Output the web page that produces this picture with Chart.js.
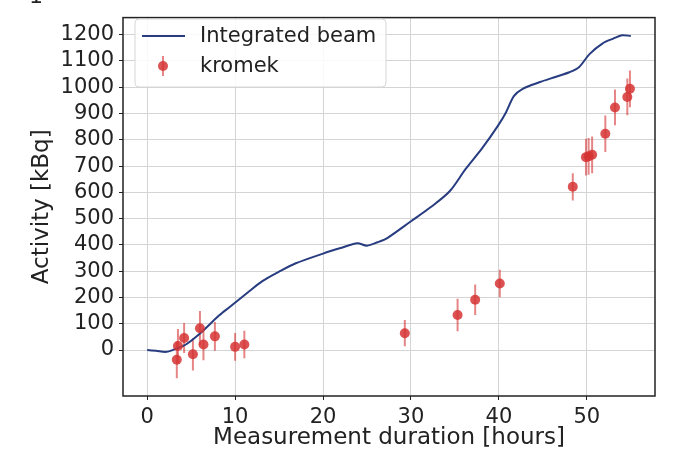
<!DOCTYPE html>
<html>
<head>
<meta charset="utf-8">
<script src="https://cdn.jsdelivr.net/npm/chart.js@4.4.1/dist/chart.umd.min.js"></script>
<style>
  html, body { margin: 0; padding: 0; background: #fff; }
  #wrap { width: 674px; height: 450px; position: relative; }
</style>
</head>
<body>
<div id="wrap"><canvas id="activityChart"></canvas></div>
<script>
// Integrated beam curve (hours, kBq)
const beamHours = [0, 1, 2.2, 3.3, 4.4, 5.9, 8.2, 9.35, 11.4, 13.1, 15, 16.9, 20, 22, 23.9, 25, 26.2, 27.3, 30, 32.3, 34.4, 36.2, 38.1, 39.9, 40.8, 41.7, 42.7, 44.6, 46.5, 48, 49.1, 50.3, 51.8, 53, 54, 55];
const beamActivity = [0, -3, -7, 5, 21, 60, 132, 163, 218, 262, 298, 330, 367, 388, 406, 397, 410, 426, 490, 545, 604, 688, 768, 854, 904, 966, 994, 1019, 1040, 1057, 1076, 1126, 1167, 1185, 1198, 1195];

// kromek measurements
const kromekHours = [3.37, 3.5, 4.2, 5.2, 6.0, 6.4, 7.7, 10.0, 11.05, 29.3, 35.3, 37.3, 40.1, 48.4, 49.9, 50.2, 50.6, 52.1, 53.2, 54.6, 54.9];
const kromekActivity = [-37, 15, 46, -16, 83, 21, 52, 12, 21, 64, 133, 191, 253, 621, 734, 737, 743, 823, 923, 963, 994];
const kromekError = [70, 65, 57, 62, 65, 60, 55, 53, 52, 50, 62, 58, 52, 52, 70, 70, 70, 69, 68, 70, 70];

// axis ticks
const xTicks = [0, 10, 20, 30, 40, 50];
const yTicks = [0, 100, 200, 300, 400, 500, 600, 700, 800, 900, 1000, 1100, 1200];

const lineColor = '#283c80';
const pointColor = 'rgba(214, 52, 52, 0.85)';
const barColor = 'rgba(214, 52, 52, 0.6)';
const fontFamily = '"DejaVu Sans", sans-serif';

// error bars, drawn through the chart scales
const errorBars = {
    id: 'errorBars',
    beforeDatasetsDraw(chart) {
        const ctx = chart.ctx;
        const xs = chart.scales.x, ys = chart.scales.y;
        const area = chart.chartArea;
        ctx.save();
        ctx.beginPath();
        ctx.rect(area.left, area.top, area.right - area.left, area.bottom - area.top);
        ctx.clip();
        ctx.strokeStyle = barColor;
        ctx.lineWidth = 2;
        kromekHours.forEach((h, i) => {
            const px = xs.getPixelForValue(h);
            ctx.beginPath();
            ctx.moveTo(px, ys.getPixelForValue(kromekActivity[i] - kromekError[i]));
            ctx.lineTo(px, ys.getPixelForValue(kromekActivity[i] + kromekError[i]));
            ctx.stroke();
        });
        ctx.restore();
    }
};

// frame, legend and the clipped glyph at the top
const frameAndLegend = {
    id: 'frameAndLegend',
    afterDraw(chart) {
        const ctx = chart.ctx;
        const a = chart.chartArea;
        ctx.save();
        ctx.strokeStyle = '#222';
        ctx.lineWidth = 1.5;
        ctx.strokeRect(a.left, a.top, a.right - a.left, a.bottom - a.top);

        // legend box
        const lx = 135, ly = 19, lw = 251, lh = 68, r = 4;
        ctx.beginPath();
        ctx.moveTo(lx + r, ly);
        ctx.arcTo(lx + lw, ly, lx + lw, ly + lh, r);
        ctx.arcTo(lx + lw, ly + lh, lx, ly + lh, r);
        ctx.arcTo(lx, ly + lh, lx, ly, r);
        ctx.arcTo(lx, ly, lx + lw, ly, r);
        ctx.closePath();
        ctx.fillStyle = 'rgba(255,255,255,0.85)';
        ctx.fill();
        ctx.strokeStyle = '#d6d6d6';
        ctx.lineWidth = 1;
        ctx.stroke();

        ctx.strokeStyle = lineColor;
        ctx.lineWidth = 2;
        ctx.beginPath();
        ctx.moveTo(142, 36);
        ctx.lineTo(185, 36);
        ctx.stroke();

        ctx.strokeStyle = barColor;
        ctx.beginPath();
        ctx.moveTo(163, 56);
        ctx.lineTo(163, 76);
        ctx.stroke();
        ctx.fillStyle = pointColor;
        ctx.beginPath();
        ctx.arc(163, 66, 5, 0, Math.PI * 2);
        ctx.fill();

        ctx.fillStyle = '#222';
        ctx.font = '21px ' + fontFamily;
        ctx.textBaseline = 'middle';
        ctx.fillText('Integrated beam', 200, 37);
        ctx.fillText('kromek', 200, 67);

        ctx.font = '22px ' + fontFamily;
        ctx.textBaseline = 'alphabetic';
        ctx.fillText('1', 29, 3);
        ctx.restore();
    }
};

new Chart(document.getElementById('activityChart'), {
    type: 'scatter',
    data: {
        datasets: [
            {
                type: 'line',
                label: 'Integrated beam',
                data: beamHours.map((h, i) => ({ x: h, y: beamActivity[i] })),
                borderColor: lineColor,
                borderWidth: 2,
                pointRadius: 0,
                tension: 0.3,
                fill: false,
                order: 1
            },
            {
                label: 'kromek',
                data: kromekHours.map((h, i) => ({ x: h, y: kromekActivity[i] })),
                backgroundColor: pointColor,
                borderWidth: 0,
                pointRadius: 5,
                order: 0
            }
        ]
    },
    options: {
        responsive: true,
        maintainAspectRatio: false,
        animation: false,
        layout: { padding: { left: 0, right: 19, top: 8, bottom: 0 } },
        plugins: {
            legend: { display: false },
            tooltip: { enabled: false }
        },
        scales: {
            x: {
                type: 'linear',
                min: -2.75,
                max: 57.75,
                afterBuildTicks: scale => { scale.ticks = xTicks.map(v => ({ value: v })); },
                afterFit: scale => { scale.height = 54; },
                grid: { color: '#d4d4d4', tickColor: '#222', tickLength: 4 },
                border: { display: false },
                ticks: {
                    color: '#222', padding: 5, maxRotation: 0,
                    font: { family: fontFamily, size: 21 },
                    callback: v => String(v)
                },
                title: {
                    display: true,
                    text: 'Measurement duration [hours]',
                    color: '#222',
                    font: { family: fontFamily, size: 23, lineHeight: 1.0 },
                    padding: { top: 0, bottom: 0 }
                }
            },
            y: {
                type: 'linear',
                min: -175,
                max: 1265,
                afterBuildTicks: scale => { scale.ticks = yTicks.map(v => ({ value: v })); },
                afterFit: scale => { scale.width = 123; },
                grid: { color: '#d4d4d4', tickColor: '#222', tickLength: 4 },
                border: { display: false },
                ticks: {
                    color: '#222', padding: 5,
                    font: { family: fontFamily, size: 21 },
                    callback: v => String(v)
                },
                title: {
                    display: true,
                    text: 'Activity [kBq]',
                    color: '#222',
                    font: { family: fontFamily, size: 23 },
                    padding: { top: 28, bottom: 0 }
                }
            }
        }
    },
    plugins: [errorBars, frameAndLegend]
});
</script>
</body>
</html>
